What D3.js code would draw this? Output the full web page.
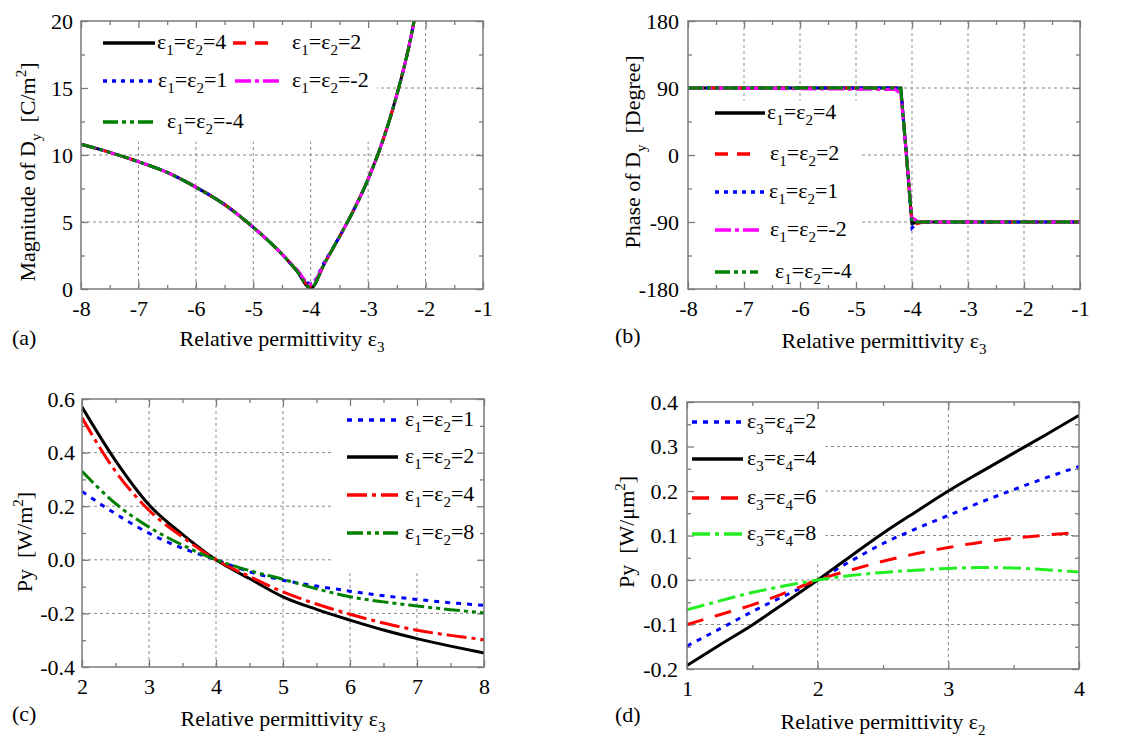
<!DOCTYPE html>
<html><head><meta charset="utf-8">
<script src="https://cdn.jsdelivr.net/npm/d3@7"></script>
<style>
body{margin:0;background:#fff}
text{font-family:"Liberation Serif","Times New Roman",serif;fill:#000;white-space:pre}
</style>
</head><body>
<svg id="chart" width="1145" height="740"></svg>
<script>
// ---------------- DATA ----------------
// Panel (a): magnitude of Dy vs eps3
const aX = [-8,-7.5,-7,-6.5,-6,-5.5,-5,-4.75,-4.5,-4.25,-4,-3.75,-3.5,-3.25,-3,-2.75,-2.5,-2.25,-2.2];
const aE4  = [10.8,10.2,9.5,8.7,7.6,6.3,4.6,3.65,2.6,1.4,0.05,2.0,3.9,5.9,8.2,11.0,14.5,18.9,20];
const aE2  = [10.8,10.2,9.5,8.7,7.6,6.3,4.6,3.65,2.6,1.4,0.2,2.0,3.9,5.9,8.2,11.0,14.5,18.9,20];
const aE1  = [10.8,10.2,9.5,8.7,7.6,6.3,4.6,3.65,2.6,1.4,0.4,2.1,3.9,5.9,8.2,11.0,14.5,18.9,20];
const aEm2 = [10.8,10.2,9.5,8.7,7.6,6.3,4.6,3.65,2.6,1.5,0.35,2.0,3.9,5.9,8.2,11.0,14.5,18.9,20];
const aEm4 = [10.8,10.2,9.5,8.7,7.6,6.3,4.6,3.65,2.6,1.4,0.1,2.0,3.9,5.9,8.2,11.0,14.5,18.9,20];
const aLegend = ["ε_1=ε_2=4","ε_1=ε_2=2","ε_1=ε_2=1","ε_1=ε_2=-2","ε_1=ε_2=-4"];
const aXTicks = [-8,-7,-6,-5,-4,-3,-2,-1];
const aYTicks = [0,5,10,15,20];

// Panel (b): phase of Dy vs eps3
const bX = [-8,-4.3,-4.2,-4.1,-4.0,-3.9,-3.8,-1];
const bE4  = [90,90,90,2,-92,-90,-90,-90];
const bE2  = [90,90,88,0,-93,-92,-90,-90];
const bE1  = [90,90,89,0,-98,-90,-90,-90];
const bEm2 = [90,88,82,0,-84,-89,-90,-90];
const bEm4 = [90,90,89,0,-90,-90,-90,-90];
const bLegend = ["ε_1=ε_2=4","ε_1=ε_2=2","ε_1=ε_2=1","ε_1=ε_2=-2","ε_1=ε_2=-4"];
const bXTicks = [-8,-7,-6,-5,-4,-3,-2,-1];
const bYTicks = [-180,-90,0,90,180];

// Panel (c): Py vs eps3
const cX = [2,2.5,3,3.5,4,4.5,5,5.5,6,6.5,7,7.5,8];
const cE1 = [0.255,0.172,0.099,0.043,0,-0.045,-0.076,-0.098,-0.117,-0.134,-0.148,-0.16,-0.17];
const cE2 = [0.57,0.37,0.205,0.095,0,-0.07,-0.138,-0.185,-0.225,-0.262,-0.294,-0.322,-0.348];
const cE4 = [0.53,0.33,0.185,0.085,0,-0.062,-0.12,-0.165,-0.203,-0.236,-0.263,-0.282,-0.298];
const cE8 = [0.33,0.21,0.122,0.055,0,-0.04,-0.073,-0.108,-0.138,-0.157,-0.172,-0.186,-0.198];
const cLegend = ["ε_1=ε_2=1","ε_1=ε_2=2","ε_1=ε_2=4","ε_1=ε_2=8"];
const cXTicks = [2,3,4,5,6,7,8];
const cYTicks = [-0.4,-0.2,0,0.2,0.4,0.6];

// Panel (d): Py vs eps2
const dX = [1,1.25,1.5,1.75,2,2.25,2.5,2.75,3,3.25,3.5,3.75,4];
const dE2 = [-0.148,-0.11,-0.071,-0.035,0,0.042,0.082,0.115,0.145,0.175,0.203,0.23,0.255];
const dE4 = [-0.192,-0.146,-0.101,-0.051,0,0.053,0.105,0.153,0.2,0.243,0.285,0.327,0.37];
const dE6 = [-0.1,-0.078,-0.056,-0.029,0,0.022,0.042,0.059,0.073,0.085,0.094,0.101,0.107];
const dE8 = [-0.067,-0.047,-0.028,-0.013,0,0.01,0.017,0.022,0.026,0.028,0.027,0.023,0.018];
const dLegend = ["ε_3=ε_4=2","ε_3=ε_4=4","ε_3=ε_4=6","ε_3=ε_4=8"];
const dXTicks = [1,2,3,4];
const dYTicks = [-0.2,-0.1,0,0.1,0.2,0.3,0.4];

// ---------------- DRAWING ----------------
const svg = d3.select("#chart");
const FS = 22;

function rich(textSel, str, subSize) {
  subSize = subSize || 15;
  let i = 0, buf = "", pendingDy = 0;
  const flush = () => {
    if (buf) { const t = textSel.append("tspan").text(buf); if (pendingDy) { t.attr("dy", pendingDy); pendingDy = 0; } buf = ""; }
  };
  while (i < str.length) {
    const ch = str[i];
    if ((ch === "_" || ch === "^") && i + 1 < str.length) {
      flush();
      const shift = ch === "_" ? 6 : -9;
      textSel.append("tspan").attr("dy", pendingDy + shift).attr("font-size", subSize).text(str[i + 1]);
      pendingDy = -shift;
      i += 2;
    } else { buf += ch; i++; }
  }
  flush();
  return textSel;
}

function fmtNum(dec) {
  return d => (dec ? Math.abs(d) < 1e-9 ? (0).toFixed(dec) : d.toFixed(dec) : String(d));
}

function minorTicks(ticks, n) {
  const out = [];
  for (let k = 0; k < ticks.length - 1; k++) {
    const a = ticks[k], b = ticks[k + 1];
    for (let j = 1; j < n; j++) out.push(a + (b - a) * j / n);
  }
  return out;
}

function panel(cfg) {
  const g = svg.append("g");
  const x = d3.scaleLinear().domain(cfg.xd).range([cfg.l, cfg.r]);
  const y = d3.scaleLinear().domain(cfg.yd).range([cfg.b, cfg.t]);
  const gridCol = "#8a8a8a", axCol = "#7a7a7a";

  // grid
  const grid = g.append("g").attr("stroke", gridCol).attr("stroke-width", 1).attr("stroke-dasharray", "3,3");
  cfg.xt.slice(1, -1).forEach(v => grid.append("line").attr("x1", x(v)).attr("x2", x(v)).attr("y1", cfg.t).attr("y2", cfg.b));
  cfg.yt.slice(1, -1).forEach(v => grid.append("line").attr("y1", y(v)).attr("y2", y(v)).attr("x1", cfg.l).attr("x2", cfg.r));

  // legend background box (hides grid)
  const lb = cfg.legBox;
  g.append("rect").attr("x", x(lb[0])).attr("y", y(lb[3])).attr("width", x(lb[1]) - x(lb[0])).attr("height", y(lb[2]) - y(lb[3])).attr("fill", "#fff");

  // axes
  const styleAx = s => { s.select(".domain").remove(); s.selectAll(".tick line").attr("stroke", axCol).attr("stroke-width", 1.3);
    s.selectAll("text").attr("font-size", FS).attr("font-family", '"Liberation Serif","Times New Roman",serif').attr("fill", "#000"); };
  const xMin = minorTicks(cfg.xt, cfg.xm), yMin = minorTicks(cfg.yt, cfg.ym);
  g.append("g").attr("transform", `translate(0,${cfg.b})`).call(d3.axisBottom(x).tickValues(cfg.xt).tickSize(-7).tickPadding(11).tickFormat(fmtNum(0))).call(styleAx);
  g.append("g").attr("transform", `translate(0,${cfg.b})`).call(d3.axisBottom(x).tickValues(xMin).tickSize(-4).tickFormat("")).call(styleAx);
  g.append("g").attr("transform", `translate(0,${cfg.t})`).call(d3.axisTop(x).tickValues(cfg.xt).tickSize(-7).tickFormat("")).call(styleAx);
  g.append("g").attr("transform", `translate(0,${cfg.t})`).call(d3.axisTop(x).tickValues(xMin).tickSize(-4).tickFormat("")).call(styleAx);
  g.append("g").attr("transform", `translate(${cfg.l},0)`).call(d3.axisLeft(y).tickValues(cfg.yt).tickSize(-7).tickPadding(cfg.ypad).tickFormat(fmtNum(cfg.ydec))).call(styleAx);
  g.append("g").attr("transform", `translate(${cfg.l},0)`).call(d3.axisLeft(y).tickValues(yMin).tickSize(-4).tickFormat("")).call(styleAx);
  g.append("g").attr("transform", `translate(${cfg.r},0)`).call(d3.axisRight(y).tickValues(cfg.yt).tickSize(-7).tickFormat("")).call(styleAx);
  g.append("g").attr("transform", `translate(${cfg.r},0)`).call(d3.axisRight(y).tickValues(yMin).tickSize(-4).tickFormat("")).call(styleAx);

  // data
  const clipId = "clip" + cfg.id;
  g.append("clipPath").attr("id", clipId).append("rect").attr("x", cfg.l).attr("y", cfg.t).attr("width", cfg.r - cfg.l).attr("height", cfg.b - cfg.t);
  const dg = g.append("g").attr("clip-path", `url(#${clipId})`);
  const line = d3.line().x(d => x(d[0])).y(d => y(d[1])).curve(cfg.curve);
  cfg.series.forEach(s => {
    dg.append("path").datum(cfg.xs.map((v, i) => [v, s.ys[i]])).attr("d", line)
      .attr("fill", "none").attr("stroke", s.color).attr("stroke-width", 3).attr("stroke-dasharray", s.dash || null);
  });

  // frame
  g.append("rect").attr("x", cfg.l).attr("y", cfg.t).attr("width", cfg.r - cfg.l).attr("height", cfg.b - cfg.t)
    .attr("fill", "none").attr("stroke", axCol).attr("stroke-width", 1.5);

  // legend
  cfg.series.forEach((s, i) => {
    const L = cfg.leg[i];
    g.append("line").attr("x1", L.x1).attr("x2", L.x2).attr("y1", L.y).attr("y2", L.y)
      .attr("stroke", s.color).attr("stroke-width", 3.5).attr("stroke-dasharray", s.dash || null);
    rich(g.append("text").attr("x", L.tx).attr("y", L.y + 6).attr("font-size", FS), s.name);
  });

  // titles
  g.append("text").attr("x", (cfg.l + cfg.r) / 2).attr("y", cfg.xtY).attr("text-anchor", "middle").attr("font-size", FS).call(t => rich(t, cfg.xTitle));
  g.append("text").attr("transform", `translate(${cfg.ytX},${cfg.ytY}) rotate(-90)`).attr("text-anchor", "middle").attr("font-size", FS).call(t => rich(t, cfg.yTitle));
  g.append("text").attr("x", cfg.labX).attr("y", cfg.labY).attr("font-size", FS).text(cfg.label);
}

const RED = "#ff0000", BLUE = "#0000ff", MAG = "#ff00ff", GRN = "#008000", LGRN = "#22ee22";

panel({
  id: "a", l: 81, r: 483, t: 21, b: 289, xd: [-8, -1], yd: [0, 20],
  xt: aXTicks, yt: aYTicks, xm: 2, ym: 2, ydec: 0, ypad: 8,
  legBox: [-8, -2.85, 11, 20], curve: d3.curveMonotoneX, xs: aX,
  series: [
    { ys: aE4, color: "#000", dash: null, name: aLegend[0] },
    { ys: aE2, color: RED, dash: "13,9", name: aLegend[1] },
    { ys: aE1, color: BLUE, dash: "4,5", name: aLegend[2] },
    { ys: aEm2, color: MAG, dash: "16,4,4,4", name: aLegend[3] },
    { ys: aEm4, color: GRN, dash: "15,4,4,4,4,4", name: aLegend[4] }
  ],
  leg: [
    { x1: 103, x2: 155, y: 43, tx: 157 },
    { x1: 233, x2: 273, y: 43, tx: 292 },
    { x1: 103, x2: 155, y: 81, tx: 158 },
    { x1: 235, x2: 282, y: 81, tx: 292 },
    { x1: 103, x2: 155, y: 122, tx: 167 }
  ],
  xTitle: "Relative permittivity ε_3", xtY: 346,
  yTitle: "Magnitude of D_y  [C/m^2]", ytX: 35, ytY: 172,
  label: "(a)", labX: 12, labY: 345
});

panel({
  id: "b", l: 688, r: 1080, t: 21, b: 289, xd: [-8, -1], yd: [-180, 180],
  xt: bXTicks, yt: bYTicks, xm: 2, ym: 2, ydec: 0, ypad: 9,
  legBox: [-8, -4.9, -180, 73], curve: d3.curveLinear, xs: bX,
  series: [
    { ys: bE4, color: "#000", dash: null, name: bLegend[0] },
    { ys: bE2, color: RED, dash: "13,9", name: bLegend[1] },
    { ys: bE1, color: BLUE, dash: "4,5", name: bLegend[2] },
    { ys: bEm2, color: MAG, dash: "16,4,4,4", name: bLegend[3] },
    { ys: bEm4, color: GRN, dash: "15,4,4,4,4,4", name: bLegend[4] }
  ],
  leg: [
    { x1: 715, x2: 765, y: 113, tx: 767 },
    { x1: 715, x2: 753, y: 154, tx: 770 },
    { x1: 715, x2: 765, y: 192, tx: 769 },
    { x1: 715, x2: 762, y: 230, tx: 770 },
    { x1: 715, x2: 758, y: 272, tx: 775 }
  ],
  xTitle: "Relative permittivity ε_3", xtY: 348,
  yTitle: "Phase of D_y  [Degree]", ytX: 640, ytY: 152,
  label: "(b)", labX: 615, labY: 343
});

panel({
  id: "c", l: 82, r: 484, t: 399, b: 667, xd: [2, 8], yd: [-0.4, 0.6],
  xt: cXTicks, yt: cYTicks, xm: 2, ym: 2, ydec: 1, ypad: 7,
  legBox: [5.73, 8, -0.05, 0.6], curve: d3.curveMonotoneX, xs: cX,
  series: [
    { ys: cE1, color: BLUE, dash: "5,6", name: cLegend[0] },
    { ys: cE2, color: "#000", dash: null, name: cLegend[1] },
    { ys: cE4, color: RED, dash: "20,5,4,5", name: cLegend[2] },
    { ys: cE8, color: GRN, dash: "16,4,4,4,4,4", name: cLegend[3] }
  ],
  leg: [
    { x1: 347, x2: 398, y: 420, tx: 405 },
    { x1: 347, x2: 398, y: 457, tx: 405 },
    { x1: 347, x2: 398, y: 495, tx: 405 },
    { x1: 347, x2: 398, y: 533, tx: 405 }
  ],
  xTitle: "Relative permittivity ε_3", xtY: 726,
  yTitle: "Py  [W/m^2]", ytX: 32, ytY: 542,
  label: "(c)", labX: 12, labY: 721
});

panel({
  id: "d", l: 687, r: 1079, t: 402, b: 669, xd: [1, 4], yd: [-0.2, 0.4],
  xt: dXTicks, yt: dYTicks, xm: 2, ym: 2, ydec: 1, ypad: 9,
  legBox: [1, 2.06, 0.04, 0.4], curve: d3.curveMonotoneX, xs: dX,
  series: [
    { ys: dE2, color: BLUE, dash: "5,6", name: dLegend[0] },
    { ys: dE4, color: "#000", dash: null, name: dLegend[1] },
    { ys: dE6, color: RED, dash: "17,12", name: dLegend[2] },
    { ys: dE8, color: LGRN, dash: "18,5,4,5", name: dLegend[3] }
  ],
  leg: [
    { x1: 692, x2: 743, y: 422, tx: 747 },
    { x1: 692, x2: 743, y: 459, tx: 747 },
    { x1: 692, x2: 743, y: 498, tx: 747 },
    { x1: 692, x2: 743, y: 534, tx: 747 }
  ],
  xTitle: "Relative permittivity ε_2", xtY: 729,
  yTitle: "Py  [W/μm^2]", ytX: 634, ytY: 532,
  label: "(d)", labX: 615, labY: 722
});
</script>
</body></html>
